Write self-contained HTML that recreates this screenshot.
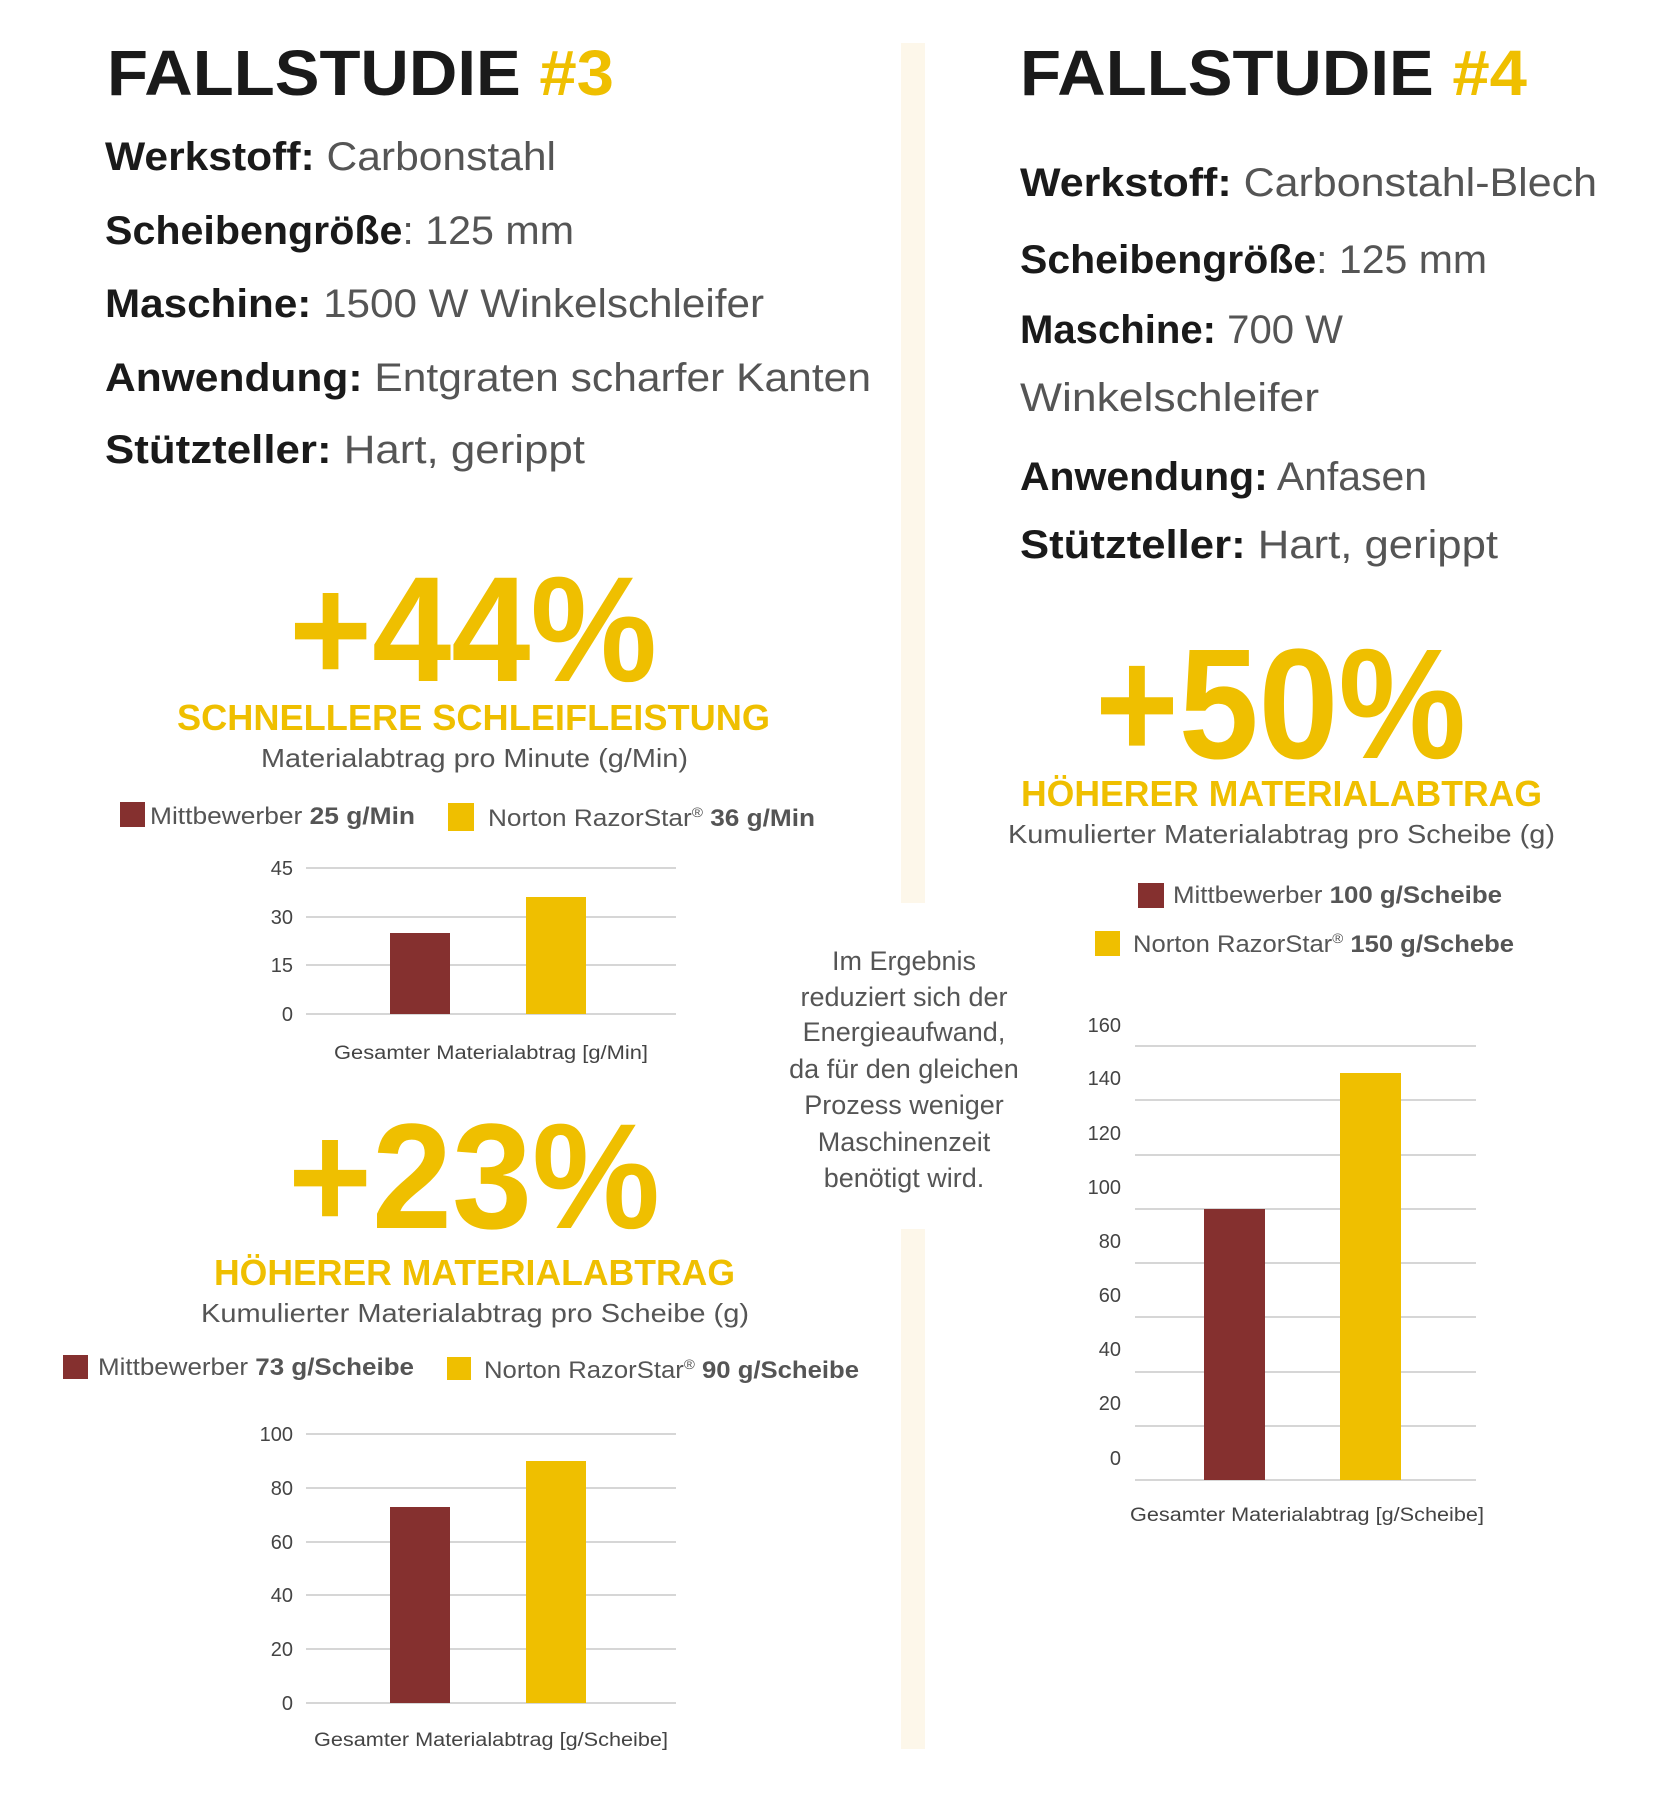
<!DOCTYPE html>
<html><head><meta charset="utf-8"><style>
html,body{margin:0;padding:0;background:#fff;}
svg{display:block;font-family:"Liberation Sans",sans-serif;}
</style></head><body>
<svg width="1674" height="1800" viewBox="0 0 1674 1800" xmlns="http://www.w3.org/2000/svg">
<rect width="1674" height="1800" fill="#fff"/>
<g transform="translate(-3,-3)">
<!-- divider -->
<rect x="904" y="46" width="24" height="860" fill="#fdf7ea"/>
<rect x="904" y="1232" width="24" height="520" fill="#fdf7ea"/>

<g font-weight="bold" font-size="64" fill="#1a1a1a">
<text x="110" y="98" textLength="507" lengthAdjust="spacingAndGlyphs">FALLSTUDIE <tspan fill="#efbf00">#3</tspan></text>
<text x="1023" y="98" textLength="507" lengthAdjust="spacingAndGlyphs">FALLSTUDIE <tspan fill="#efbf00">#4</tspan></text>
</g>

<g font-size="40" fill="#555">
<text x="108" y="173" textLength="451" lengthAdjust="spacingAndGlyphs"><tspan font-weight="bold" fill="#1a1a1a">Werkstoff:</tspan> Carbonstahl</text>
<text x="108" y="247" textLength="469" lengthAdjust="spacingAndGlyphs"><tspan font-weight="bold" fill="#1a1a1a">Scheibengröße</tspan>: 125 mm</text>
<text x="108" y="320" textLength="659" lengthAdjust="spacingAndGlyphs"><tspan font-weight="bold" fill="#1a1a1a">Maschine:</tspan> 1500 W Winkelschleifer</text>
<text x="108" y="394" textLength="766" lengthAdjust="spacingAndGlyphs"><tspan font-weight="bold" fill="#1a1a1a">Anwendung:</tspan> Entgraten scharfer Kanten</text>
<text x="108" y="466" textLength="480" lengthAdjust="spacingAndGlyphs"><tspan font-weight="bold" fill="#1a1a1a">Stützteller:</tspan> Hart, gerippt</text>

<text x="1023" y="199" textLength="577" lengthAdjust="spacingAndGlyphs"><tspan font-weight="bold" fill="#1a1a1a">Werkstoff:</tspan> Carbonstahl-Blech</text>
<text x="1023" y="276" textLength="467" lengthAdjust="spacingAndGlyphs"><tspan font-weight="bold" fill="#1a1a1a">Scheibengröße</tspan>: 125 mm</text>
<text x="1023" y="346" textLength="323" lengthAdjust="spacingAndGlyphs"><tspan font-weight="bold" fill="#1a1a1a">Maschine:</tspan> 700 W</text>
<text x="1023" y="414" textLength="299" lengthAdjust="spacingAndGlyphs">Winkelschleifer</text>
<text x="1023" y="493" textLength="407" lengthAdjust="spacingAndGlyphs"><tspan font-weight="bold" fill="#1a1a1a">Anwendung:</tspan> Anfasen</text>
<text x="1023" y="561" textLength="478" lengthAdjust="spacingAndGlyphs"><tspan font-weight="bold" fill="#1a1a1a">Stützteller:</tspan> Hart, gerippt</text>
</g>

<g font-weight="bold" fill="#efbf00">
<text x="292" y="684" font-size="150" textLength="368" lengthAdjust="spacingAndGlyphs">+44%</text>
<text x="291" y="1231" font-size="150" textLength="372" lengthAdjust="spacingAndGlyphs">+23%</text>
<text x="1098" y="761" font-size="157" textLength="371" lengthAdjust="spacingAndGlyphs">+50%</text>
<text x="180" y="733" font-size="36" textLength="593" lengthAdjust="spacingAndGlyphs">SCHNELLERE SCHLEIFLEISTUNG</text>
<text x="217" y="1288" font-size="36" textLength="521" lengthAdjust="spacingAndGlyphs">HÖHERER MATERIALABTRAG</text>
<text x="1024" y="809" font-size="36" textLength="521" lengthAdjust="spacingAndGlyphs">HÖHERER MATERIALABTRAG</text>
</g>
<g font-size="26" fill="#555">
<text x="264" y="770" textLength="427" lengthAdjust="spacingAndGlyphs">Materialabtrag pro Minute (g/Min)</text>
<text x="204" y="1325" textLength="548" lengthAdjust="spacingAndGlyphs">Kumulierter Materialabtrag pro Scheibe (g)</text>
<text x="1011" y="846" textLength="547" lengthAdjust="spacingAndGlyphs">Kumulierter Materialabtrag pro Scheibe (g)</text>
</g>

<g font-size="24" fill="#555">
<rect x="123" y="805" width="25" height="25" fill="#85302f"/>
<text x="153" y="827" textLength="265" lengthAdjust="spacingAndGlyphs">Mittbewerber <tspan font-weight="bold">25 g/Min</tspan></text>
<rect x="451" y="806" width="26" height="28" fill="#efbf00"/>
<text x="491" y="829" textLength="327" lengthAdjust="spacingAndGlyphs">Norton RazorStar<tspan font-size="14" dy="-9">®</tspan><tspan dy="9" font-weight="bold"> 36 g/Min</tspan></text>

<rect x="66" y="1358" width="25" height="24" fill="#85302f"/>
<text x="101" y="1378" textLength="316" lengthAdjust="spacingAndGlyphs">Mittbewerber <tspan font-weight="bold">73 g/Scheibe</tspan></text>
<rect x="450" y="1360" width="24" height="23" fill="#efbf00"/>
<text x="487" y="1381" textLength="375" lengthAdjust="spacingAndGlyphs">Norton RazorStar<tspan font-size="14" dy="-9">®</tspan><tspan dy="9" font-weight="bold"> 90 g/Scheibe</tspan></text>

<rect x="1141" y="886" width="26" height="25" fill="#85302f"/>
<text x="1176" y="906" textLength="329" lengthAdjust="spacingAndGlyphs">Mittbewerber <tspan font-weight="bold">100 g/Scheibe</tspan></text>
<rect x="1098" y="934" width="25" height="25" fill="#efbf00"/>
<text x="1136" y="955" textLength="381" lengthAdjust="spacingAndGlyphs">Norton RazorStar<tspan font-size="14" dy="-9">®</tspan><tspan dy="9" font-weight="bold"> 150 g/Schebe</tspan></text>
</g>

<g stroke="#c8c8c8" stroke-width="1.5">
<line x1="309" y1="871" x2="679" y2="871"/><line x1="309" y1="920" x2="679" y2="920"/>
<line x1="309" y1="968" x2="679" y2="968"/><line x1="309" y1="1017" x2="679" y2="1017"/>
</g>
<rect x="393" y="936" width="60" height="81" fill="#85302f"/>
<rect x="529" y="900" width="60" height="117" fill="#efbf00"/>
<g font-size="20" fill="#444" text-anchor="end">
<text x="296" y="878">45</text><text x="296" y="927">30</text><text x="296" y="975">15</text><text x="296" y="1024">0</text>
</g>
<text x="337" y="1062" font-size="19" fill="#444" textLength="314" lengthAdjust="spacingAndGlyphs">Gesamter Materialabtrag [g/Min]</text>

<g stroke="#c8c8c8" stroke-width="1.5">
<line x1="309" y1="1437" x2="679" y2="1437"/><line x1="309" y1="1491" x2="679" y2="1491"/>
<line x1="309" y1="1545" x2="679" y2="1545"/><line x1="309" y1="1598" x2="679" y2="1598"/>
<line x1="309" y1="1652" x2="679" y2="1652"/><line x1="309" y1="1706" x2="679" y2="1706"/>
</g>
<rect x="393" y="1510" width="60" height="196" fill="#85302f"/>
<rect x="529" y="1464" width="60" height="242" fill="#efbf00"/>
<g font-size="20" fill="#444" text-anchor="end">
<text x="296" y="1444">100</text><text x="296" y="1498">80</text><text x="296" y="1552">60</text>
<text x="296" y="1605">40</text><text x="296" y="1659">20</text><text x="296" y="1713">0</text>
</g>
<text x="317" y="1749" font-size="19" fill="#444" textLength="354" lengthAdjust="spacingAndGlyphs">Gesamter Materialabtrag [g/Scheibe]</text>

<g stroke="#c8c8c8" stroke-width="1.5">
<line x1="1138" y1="1049" x2="1479" y2="1049"/><line x1="1138" y1="1103" x2="1479" y2="1103"/>
<line x1="1138" y1="1158" x2="1479" y2="1158"/><line x1="1138" y1="1212" x2="1479" y2="1212"/>
<line x1="1138" y1="1266" x2="1479" y2="1266"/><line x1="1138" y1="1320" x2="1479" y2="1320"/>
<line x1="1138" y1="1375" x2="1479" y2="1375"/><line x1="1138" y1="1429" x2="1479" y2="1429"/>
<line x1="1138" y1="1483" x2="1479" y2="1483"/>
</g>
<rect x="1207" y="1212" width="61" height="271" fill="#85302f"/>
<rect x="1343" y="1076" width="61" height="407" fill="#efbf00"/>
<g font-size="20" fill="#444" text-anchor="end">
<text x="1124" y="1035">160</text><text x="1124" y="1088">140</text><text x="1124" y="1143">120</text>
<text x="1124" y="1197">100</text><text x="1124" y="1251">80</text><text x="1124" y="1305">60</text>
<text x="1124" y="1359">40</text><text x="1124" y="1413">20</text><text x="1124" y="1468">0</text>
</g>
<text x="1133" y="1524" font-size="19" fill="#444" textLength="354" lengthAdjust="spacingAndGlyphs">Gesamter Materialabtrag [g/Scheibe]</text>

<g font-size="27" fill="#555" text-anchor="middle">
<text x="907" y="973">Im Ergebnis</text>
<text x="907" y="1009">reduziert sich der</text>
<text x="907" y="1044">Energieaufwand,</text>
<text x="907" y="1081">da für den gleichen</text>
<text x="907" y="1117">Prozess weniger</text>
<text x="907" y="1154">Maschinenzeit</text>
<text x="907" y="1190">benötigt wird.</text>
</g>
</g>
</svg>
</body></html>
